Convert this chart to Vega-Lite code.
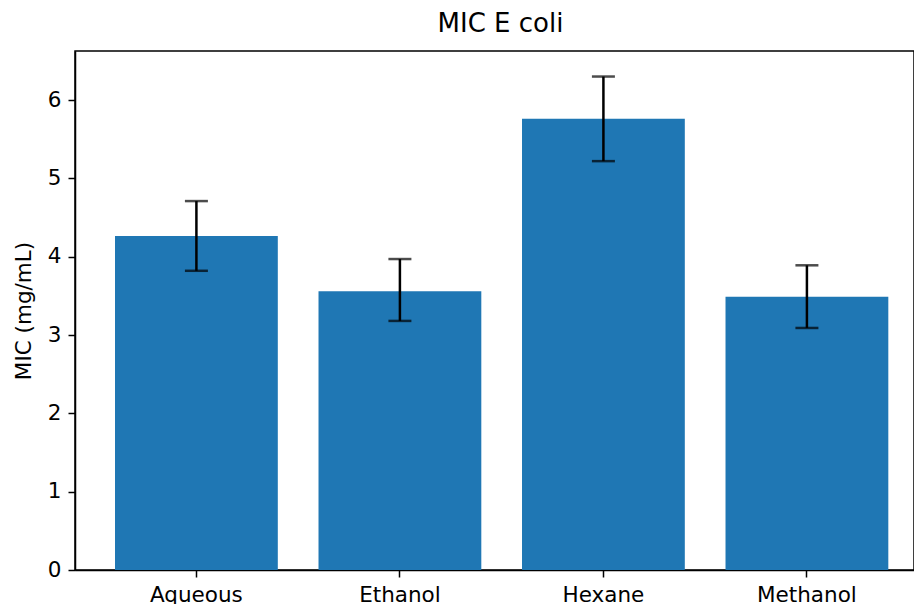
{
  "$schema": "https://vega.github.io/schema/vega-lite/v6.json",
  "autosize": "none",
  "padding": {"left": 75, "top": 51, "right": 0, "bottom": 34},
  "width": 839,
  "height": 519,
  "title": {"text": "MIC E coli", "fontSize": 26, "font": "DejaVu Sans", "fontWeight": "normal", "color": "black", "offset": 14, "anchor": "middle", "dx": 6},
  "config": {
    "view": {"stroke": "black", "strokeWidth": 1.5},
    "axis": {"grid": false, "domainColor": "black", "domainWidth": 1.5, "tickColor": "black", "tickWidth": 1.5, "tickSize": 7, "labelFont": "DejaVu Sans", "labelFontSize": 21.5, "labelColor": "black", "labelPadding": 7, "titleFont": "DejaVu Sans", "titleFontSize": 21.5, "titleFontWeight": "normal", "titleColor": "black"}
  },
  "data": {"values": [
    {"extract": "Aqueous", "mic": 4.264, "lo": 3.82, "hi": 4.71},
    {"extract": "Ethanol", "mic": 3.56, "lo": 3.18, "hi": 3.97},
    {"extract": "Hexane", "mic": 5.76, "lo": 5.22, "hi": 6.30},
    {"extract": "Methanol", "mic": 3.49, "lo": 3.09, "hi": 3.89}
  ]},
  "encoding": {
    "x": {"field": "extract", "type": "nominal", "sort": null,
      "scale": {"paddingInner": 0.2, "paddingOuter": 0.1614, "align": 0.609},
      "axis": {"title": null, "labelAngle": 0}}
  },
  "layer": [
    {"mark": {"type": "bar", "color": "#1f77b4"},
     "encoding": {"y": {"field": "mic", "type": "quantitative", "scale": {"domain": [0, 6.626], "nice": false, "zero": true},
       "axis": {"title": "MIC (mg/mL)", "values": [0,1,2,3,4,5,6], "format": "d", "titlePadding": 12}}}},
    {"mark": {"type": "rule", "color": "black", "strokeWidth": 2.5},
     "encoding": {"y": {"field": "lo", "type": "quantitative"}, "y2": {"field": "hi"}}},
    {"mark": {"type": "tick", "color": "black", "size": 23, "thickness": 2.5},
     "encoding": {"y": {"field": "lo", "type": "quantitative"}}},
    {"mark": {"type": "tick", "color": "black", "size": 23, "thickness": 2.5},
     "encoding": {"y": {"field": "hi", "type": "quantitative"}}}
  ]
}
